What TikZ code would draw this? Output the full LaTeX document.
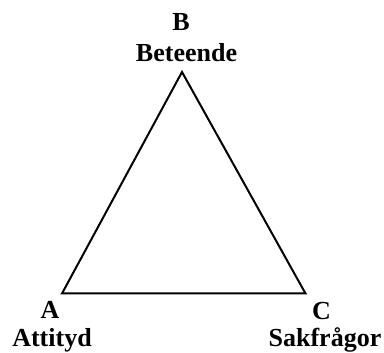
\documentclass[tikz,border=0pt]{standalone}
\usepackage{fontspec}
\setmainfont{Liberation Serif}
\begin{document}
\begin{tikzpicture}[x=1pt,y=-1pt,
  lbl/.style={anchor=base,inner sep=0pt,font=\fontsize{26}{30}\selectfont\bfseries},
  edge/.style={line width=2pt,line join=miter}]
\useasboundingbox (0,0) rectangle (384,353);
\coordinate (A) at (62,293.5);
\coordinate (B) at (182,72);
\coordinate (C) at (305.5,293.5);
\draw[edge] (A) -- (B) -- (C) -- cycle;
\node[lbl] (bl) at (181,31) {B};
\node[lbl] (bn) at (186.5,62) {Beteende};
\node[lbl] (al) at (50,319) {A};
\node[lbl] (an) at (52,347) {Attityd};
\node[lbl] (cl) at (321.5,320) {C};
\node[lbl] (cn) at (325,347) {Sakfrågor};
\end{tikzpicture}
\end{document}
